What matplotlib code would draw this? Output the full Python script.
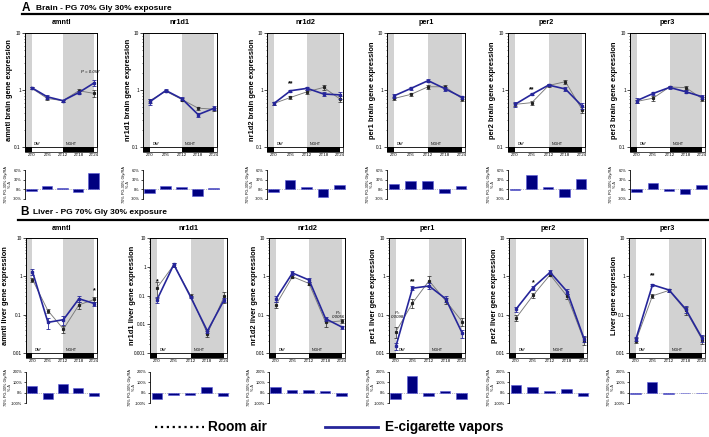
import matplotlib
matplotlib.use('Agg')
import matplotlib.pyplot as plt
import matplotlib.transforms as mtransforms
from matplotlib.patches import Rectangle
from matplotlib.lines import Line2D
from matplotlib.ticker import FixedLocator, FixedFormatter, LogLocator, NullFormatter

plt.rcParams['font.family'] = ['Liberation Sans', 'DejaVu Sans']

# ---------------- data ----------------
zt = [0, 6, 12, 18, 24]
zt_labels = ['ZT0', 'ZT6', 'ZT12', 'ZT18', 'ZT24']
genes = ['amntl', 'nr1d1', 'nr1d2', 'per1', 'per2', 'per3']

brain_ecig = {'amntl': [1.10, 0.76, 0.65, 0.90, 1.34],
              'nr1d1': [0.62, 0.98, 0.70, 0.37, 0.48],
              'nr1d2': [0.58, 0.97, 1.07, 0.85, 0.82],
              'per1':  [0.79, 1.07, 1.46, 1.05, 0.74],
              'per2':  [0.56, 0.84, 1.22, 1.04, 0.52],
              'per3':  [0.65, 0.87, 1.11, 0.93, 0.76]}
brain_ecig_err = {'amntl': [0.05, 0.06, 0.03, 0.06, 0.15],
                  'nr1d1': [0.07, 0.05, 0.04, 0.03, 0.04],
                  'nr1d2': [0.04, 0.05, 0.08, 0.08, 0.12],
                  'per1':  [0.06, 0.07, 0.10, 0.08, 0.05],
                  'per2':  [0.05, 0.03, 0.06, 0.08, 0.06],
                  'per3':  [0.06, 0.06, 0.05, 0.06, 0.06]}
brain_air = {'amntl': [1.08, 0.71, 0.65, 0.97, 0.87],
             'nr1d1': [0.65, 0.95, 0.68, 0.48, 0.46],
             'nr1d2': [0.58, 0.74, 0.93, 1.11, 0.69],
             'per1':  [0.71, 0.84, 1.14, 1.14, 0.70],
             'per2':  [0.56, 0.60, 1.20, 1.40, 0.45],
             'per3':  [0.63, 0.72, 1.13, 1.10, 0.70]}
brain_air_err = {'amntl': [0.04, 0.05, 0.03, 0.08, 0.12],
                 'nr1d1': [0.05, 0.04, 0.04, 0.03, 0.03],
                 'nr1d2': [0.03, 0.05, 0.08, 0.12, 0.08],
                 'per1':  [0.05, 0.05, 0.10, 0.10, 0.05],
                 'per2':  [0.03, 0.05, 0.05, 0.10, 0.06],
                 'per3':  [0.05, 0.08, 0.06, 0.08, 0.06]}
brain_delta = {'amntl': [-5, 11, 4, -7, 51],
               'nr1d1': [-12, 10, 6, -20, 4],
               'nr1d2': [-7, 28, 7, -24, 15],
               'per1':  [16, 26, 25, -10, 9],
               'per2':  [-2, 46, 6, -24, 33],
               'per3':  [-7, 21, -4, -15, 15]}

liver_ecig = {'amntl': [1.33, 0.063, 0.074, 0.26, 0.195],
              'nr1d1': [0.071, 1.2, 0.089, 0.0058, 0.071],
              'nr1d2': [0.26, 1.22, 0.80, 0.078, 0.047],
              'per1':  [0.015, 0.49, 0.56, 0.26, 0.033],
              'per2':  [0.14, 0.51, 1.28, 0.40, 0.023],
              'per3':  [0.023, 0.60, 0.44, 0.14, 0.024]}
liver_ecig_err = {'amntl': [0.25, 0.02, 0.02, 0.05, 0.025],
                  'nr1d1': [0.015, 0.2, 0.01, 0.001, 0.01],
                  'nr1d2': [0.04, 0.15, 0.08, 0.01, 0.005],
                  'per1':  [0.003, 0.06, 0.10, 0.04, 0.008],
                  'per2':  [0.02, 0.06, 0.15, 0.06, 0.004],
                  'per3':  [0.003, 0.03, 0.04, 0.03, 0.005]}
liver_air = {'amntl': [0.82, 0.127, 0.042, 0.18, 0.25],
             'nr1d1': [0.185, 1.15, 0.10, 0.0047, 0.093],
             'nr1d2': [0.18, 0.98, 0.65, 0.063, 0.069],
             'per1':  [0.036, 0.20, 0.77, 0.23, 0.066],
             'per2':  [0.082, 0.32, 1.10, 0.30, 0.021],
             'per3':  [0.021, 0.31, 0.43, 0.13, 0.022]}
liver_air_err = {'amntl': [0.10, 0.015, 0.008, 0.04, 0.04],
                 'nr1d1': [0.10, 0.15, 0.01, 0.001, 0.04],
                 'nr1d2': [0.03, 0.10, 0.06, 0.015, 0.01],
                 'per1':  [0.012, 0.05, 0.25, 0.04, 0.015],
                 'per2':  [0.015, 0.05, 0.10, 0.05, 0.005],
                 'per3':  [0.003, 0.03, 0.03, 0.03, 0.005]}
liver_delta = {'amntl': [60, -58, 80, 48, -32],
               'nr1d1': [-60, -22, -25, 55, -32],
               'nr1d2': [55, 22, 22, 16, -35],
               'per1':  [-58, 155, -33, 20, -58],
               'per2':  [72, 57, 18, 33, -28],
               'per3':  [-12, 100, -8, -5, -5]}

# annotations: (gene, x, y, text)
brain_notes = [('amntl', 22.5, 2.1, 'P = 0.057'), ('nr1d2', 6, 1.3, '**'), ('per2', 6, 1.02, '**')]
liver_notes = [('amntl', 24, 0.42, '*'), ('nr1d1', 0, 0.30, '*'), ('nr1d2', 22.5, 0.10, 'P=\n0.0056'),
               ('per1', 0.5, 0.10, 'P=\n0.0098'), ('per1', 6, 0.72, '**'), ('per2', 6, 0.68, '*'),
               ('per3', 6, 1.05, '**')]

# ---------------- layout (pixels) ----------------
W, H = 709, 437
fig = plt.figure(figsize=(W / 100, H / 100), dpi=100)

brain_left = [25, 143, 267, 387, 508, 630]
brain_right = [97, 217, 343, 465, 585, 705]
liver_left = [26, 150, 269, 389, 509, 629]
liver_right = [97, 227, 345, 465, 587, 705]

BLUE = '#26269a'
GREY = '#d2d2d2'
XLO, XHI = -2.5, 25


def px_axes(l, t, r, b):
    return fig.add_axes([l / W, 1 - b / H, (r - l) / W, (b - t) / H])


def ftext(x, y, s, **kw):
    fig.text(x / W, 1 - y / H, s, **kw)


def line_panel(l, t, r, b, ecig, ecig_err, air, air_err, ylo, yhi, ylabel, title, notes, lab_off):
    ax = px_axes(l, t, r, b)
    ax.set_yscale('log')
    ax.set_xlim(XLO, XHI)
    ax.set_ylim(ylo, yhi)
    ax.axvspan(XLO, 0, color=GREY, lw=0, zorder=0)
    ax.axvspan(12, 24, color=GREY, lw=0, zorder=0)
    ax.errorbar(zt, air, yerr=air_err, color='#7a7a7a', lw=0.65, ls='-', marker='s', ms=1.3,
                mfc='#222222', mec='#222222', ecolor='#222222', elinewidth=0.5, capsize=1.2,
                capthick=0.5, zorder=3)
    ax.errorbar(zt, ecig, yerr=ecig_err, color=BLUE, lw=1.2, marker='s', ms=1.8,
                ecolor=BLUE, elinewidth=0.6, capsize=1.4, capthick=0.6, zorder=4)
    trans = mtransforms.blended_transform_factory(ax.transData, ax.transAxes)
    ax.add_patch(Rectangle((XLO, -0.04), XHI - XLO, 0.04, transform=trans, fc='white', ec='black',
                           lw=0.5, clip_on=False, zorder=5))
    ax.add_patch(Rectangle((XLO, -0.04), -XLO, 0.04, transform=trans, fc='black', lw=0,
                           clip_on=False, zorder=6))
    ax.add_patch(Rectangle((12, -0.04), 12, 0.04, transform=trans, fc='black', lw=0,
                           clip_on=False, zorder=6))
    ax.text(1, 0.012, 'DAY', transform=trans, fontsize=2.6, va='bottom', ha='left', zorder=7)
    ax.text(13, 0.012, 'NIGHT', transform=trans, fontsize=2.6, va='bottom', ha='left', zorder=7)
    for sp in ax.spines.values():
        sp.set_linewidth(0.7)
    ax.set_xticks(zt)
    ax.set_xticklabels(zt_labels)
    ax.tick_params(axis='x', length=0, pad=4.5, labelsize=3.2)
    decades = []
    v = ylo
    while v <= yhi * 1.0001:
        decades.append(v)
        v *= 10
    labels = [('%g' % d) for d in decades]
    ax.yaxis.set_major_locator(FixedLocator(decades))
    ax.yaxis.set_major_formatter(FixedFormatter(labels))
    ax.yaxis.set_minor_locator(LogLocator(base=10, subs=range(2, 10)))
    ax.yaxis.set_minor_formatter(NullFormatter())
    ax.tick_params(axis='y', which='major', length=2, width=0.5, labelsize=3.4, pad=1)
    ax.tick_params(axis='y', which='minor', length=1, width=0.4)
    ftext((l + r) / 2, t - 10, title, fontsize=5.2, fontweight='bold', ha='center', va='center')
    ftext(l - lab_off, (t + b) / 2, ylabel, fontsize=5.4, fontweight='bold', rotation=90,
          ha='center', va='center')
    for (xx, yy, s) in notes:
        isp = s.startswith('P')
        ax.text(xx, yy, s, fontsize=3.2 if isp else 5, ha='center', va='center',
                style='italic' if isp else 'normal',
                fontweight='normal' if isp else 'bold', linespacing=1.0, zorder=8)
    return ax


def bar_panel(l, t, r, b, vals, ylo, yhi, ticks, ticklabels, lab_off):
    ax = px_axes(l, t, r, b)
    ax.bar(zt, vals, width=3.9, color='#000080', edgecolor='#5a5ad8', lw=0.4, zorder=3)
    ax.axhline(0, color='#888888', lw=0.5, ls=':', zorder=2)
    ax.set_xlim(XLO, XHI + 1.5)
    ax.set_ylim(ylo, yhi)
    for k in ['top', 'right', 'bottom']:
        ax.spines[k].set_visible(False)
    ax.spines['left'].set_linewidth(0.6)
    ax.set_xticks([])
    ax.set_yticks(ticks)
    ax.set_yticklabels(ticklabels)
    ax.tick_params(axis='y', length=1.5, width=0.5, labelsize=2.8, pad=1)
    ftext(l - lab_off, (t + b) / 2, '70% PG-30% Gly/RA\n% \u0394', fontsize=2.8, rotation=90,
          ha='center', va='center', linespacing=1.1)
    return ax


# ---------------- headers ----------------
ftext(22, 8, 'A', fontsize=8.5, fontweight='bold', ha='left', va='center')
ftext(36, 8.5, 'Brain - PG 70% Gly 30% exposure', fontsize=6, fontweight='bold', ha='left', va='center')
fig.add_artist(Line2D([22 / W, 1], [1 - 14 / H, 1 - 14 / H], color='black', lw=1.6))
ftext(20, 212, 'B', fontsize=8.5, fontweight='bold', ha='left', va='center')
ftext(33, 212.5, 'Liver - PG 70% Gly 30% exposure', fontsize=6, fontweight='bold', ha='left', va='center')
fig.add_artist(Line2D([18 / W, 1], [1 - 220 / H, 1 - 220 / H], color='black', lw=1.6))

# ---------------- panels ----------------
for i, g in enumerate(genes):
    notes = [(x, y, s) for (gg, x, y, s) in brain_notes if gg == g]
    line_panel(brain_left[i], 33, brain_right[i], 147, brain_ecig[g], brain_ecig_err[g],
               brain_air[g], brain_air_err[g], 0.1, 10, g + ' brain gene expression', g, notes,
               15)
    bar_panel(brain_left[i], 170, brain_right[i] + 3, 199, brain_delta[g], -30, 60,
              [-30, 0, 30, 60], ['-30%', '0%', '30%', '60%'], 17)

liver_ylo = {'amntl': 0.01, 'nr1d1': 0.001, 'nr1d2': 0.01, 'per1': 0.01, 'per2': 0.01, 'per3': 0.01}
liver_labels = {g: g + ' liver gene expression' for g in genes}
liver_labels['per3'] = 'Liver gene expression'
liver_off = {'amntl': 20, 'nr1d1': 18, 'nr1d2': 15, 'per1': 15, 'per2': 15, 'per3': 15}
for i, g in enumerate(genes):
    notes = [(x, y, s) for (gg, x, y, s) in liver_notes if gg == g]
    line_panel(liver_left[i], 238, liver_right[i], 353, liver_ecig[g], liver_ecig_err[g],
               liver_air[g], liver_air_err[g], liver_ylo[g], 10, liver_labels[g], g, notes,
               liver_off[g])
    bar_panel(liver_left[i], 371.7, liver_right[i] + 3, 403.3, liver_delta[g], -100, 200,
              [-100, 0, 100, 200], ['-100%', '0%', '100%', '200%'], 18)

# ---------------- legend ----------------
fig.add_artist(Line2D([155 / W, 204 / W], [1 - 427 / H, 1 - 427 / H], color='black', lw=1.6, ls=':'))
ftext(208, 427, 'Room air', fontsize=9.8, fontweight='bold', ha='left', va='center')
fig.add_artist(Line2D([325 / W, 378 / W], [1 - 427 / H, 1 - 427 / H], color=BLUE, lw=2))
ftext(385, 427, 'E-cigarette vapors', fontsize=9.8, fontweight='bold', ha='left', va='center')

fig.savefig('out.png', dpi=100)
